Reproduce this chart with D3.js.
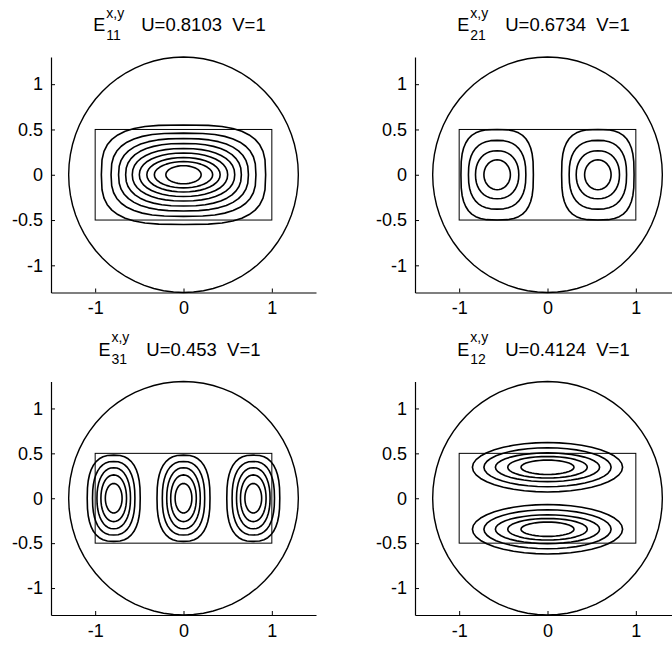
<!DOCTYPE html>
<html>
<head>
<meta charset="utf-8">
<script src="https://cdn.jsdelivr.net/npm/d3@7"></script>
<style>
  body { margin: 0; background: #fff; }
  text { font-family: "Liberation Sans", Arial, Helvetica, sans-serif; fill: #000; }
</style>
</head>
<body>
<svg id="chart" width="672" height="645"></svg>
<script>
// mode labels and titles
const modeNames = ["11", "21", "31", "12"];
const uValues = ["0.8103", "0.6734", "0.453", "0.4124"];
const vValues = ["1", "1", "1", "1"];

// axes
const xDomain = [-1.5, 1.5];
const yDomain = [-1.3, 1.3];
const xTicks = [-1, 0, 1];
const yTicks = [-1, -0.5, 0, 0.5, 1];

// waveguide: core rectangle and cladding circle
const coreX = [-1, 1];
const coreY = [-0.5, 0.5];
const claddingR = 1.3;

// contour rings: lobe centres, half widths, half heights, squareness
const lobes11 = [[0, 0]];
const rx11 = [0.93, 0.82, 0.735, 0.655, 0.58, 0.50, 0.415, 0.33, 0.20];
const ry11 = [0.55, 0.46, 0.40, 0.345, 0.29, 0.24, 0.19, 0.145, 0.10];
const sq11 = [3.1, 2.8, 2.55, 2.4, 2.25, 2.15, 2.05, 2.0, 2.0];

const lobes21 = [[-0.57, 0], [0.57, 0]];
const rx21 = [0.41, 0.325, 0.245, 0.15];
const ry21 = [0.50, 0.38, 0.265, 0.165];
const sq21 = [3.0, 2.5, 2.2, 2.0];

const lobes31 = [[-0.79, 0], [0, 0], [0.79, 0]];
const rx31 = [0.30, 0.24, 0.19, 0.145, 0.095];
const ry31 = [0.48, 0.41, 0.34, 0.26, 0.165];
const sq31 = [2.6, 2.4, 2.2, 2.1, 2.0];

const lobes12 = [[0, 0.345], [0, -0.345]];
const rx12 = [0.85, 0.72, 0.59, 0.45, 0.30];
const ry12 = [0.275, 0.217, 0.16, 0.12, 0.08];
const sq12 = [2.0, 2.0, 2.0, 2.0, 2.0];

const modeLobes = [lobes11, lobes21, lobes31, lobes12];
const modeRx = [rx11, rx21, rx31, rx12];
const modeRy = [ry11, ry21, ry31, ry12];
const modeSq = [sq11, sq21, sq31, sq12];

// layout
const panelLeft = [51, 415, 51, 415];
const panelTop = [57, 57, 381.5, 381.5];
const panelH = [235.5, 235.5, 233.5, 233.5];
const panelW = 265;

const svg = d3.select("#chart");
svg.append("rect").attr("width", 672).attr("height", 645).attr("fill", "#fff");

// closed superellipse ring as list of [x, y] in data units
function ring(cx, cy, rx, ry, n, steps) {
  const pts = [];
  for (let i = 0; i < steps; i++) {
    const t = (i / steps) * 2 * Math.PI;
    const c = Math.cos(t), s = Math.sin(t);
    pts.push([
      cx + rx * Math.sign(c) * Math.pow(Math.abs(c), 2 / n),
      cy + ry * Math.sign(s) * Math.pow(Math.abs(s), 2 / n)
    ]);
  }
  return pts;
}

function drawTitle(g, cx, baseY, mode, u, v) {
  const t = g.append("g");
  const e = t.append("text").attr("x", 0).attr("y", 0)
    .style("font-size", "18px").text("E");
  const eW = e.node().getComputedTextLength();
  const sup = t.append("text").attr("x", eW + 1).attr("y", -13.5)
    .style("font-size", "14px").text("x,y");
  const sub = t.append("text").attr("x", eW + 1).attr("y", 8.5)
    .style("font-size", "14px").text(mode);
  const sW = Math.max(sup.node().getComputedTextLength(), sub.node().getComputedTextLength());
  const main = t.append("text").attr("x", eW + sW + 18).attr("y", 0)
    .style("font-size", "18.5px").text("U=" + u + "\u00a0\u00a0V=" + v);
  const total = eW + sW + 18 + main.node().getComputedTextLength();
  t.attr("transform", "translate(" + (cx - total / 2) + "," + baseY + ")");
}

for (let p = 0; p < 4; p++) {
  const x = d3.scaleLinear().domain(xDomain).range([0, panelW]);
  const y = d3.scaleLinear().domain(yDomain).range([panelH[p], 0]);
  const g = svg.append("g")
    .attr("transform", "translate(" + panelLeft[p] + "," + panelTop[p] + ")");

  const line = d3.line()
    .x(d => x(d[0]))
    .y(d => y(d[1]))
    .curve(d3.curveLinearClosed);

  // cladding circle
  g.append("path")
    .attr("d", line(ring(0, 0, claddingR, claddingR, 2, 72)))
    .attr("fill", "none")
    .attr("stroke", "#000")
    .attr("stroke-width", 1.4);

  // core rectangle
  g.append("rect")
    .attr("x", x(coreX[0]))
    .attr("y", y(coreY[1]))
    .attr("width", x(coreX[1]) - x(coreX[0]))
    .attr("height", y(coreY[0]) - y(coreY[1]))
    .attr("fill", "none")
    .attr("stroke", "#000")
    .attr("stroke-width", 1);

  // field contours
  const lobes = modeLobes[p];
  lobes.forEach(c => {
    modeRx[p].forEach((rx, i) => {
      g.append("path")
        .attr("d", line(ring(c[0], c[1], rx, modeRy[p][i], modeSq[p][i], 40)))
        .attr("fill", "none")
        .attr("stroke", "#000")
        .attr("stroke-width", 1.6)
        .attr("stroke-linejoin", "round");
    });
  });

  // axes
  const xAxis = g.append("g")
    .attr("transform", "translate(0," + panelH[p] + ")")
    .call(d3.axisBottom(x).tickValues(xTicks).tickSizeInner(-4).tickSizeOuter(0)
      .tickPadding(9).tickFormat(d => String(d)));
  const yAxis = g.append("g")
    .call(d3.axisLeft(y).tickValues(yTicks).tickSizeInner(-4).tickSizeOuter(0)
      .tickPadding(8).tickFormat(d => String(d)));
  [xAxis, yAxis].forEach(a => {
    a.selectAll("text").style("font-size", "18px").attr("fill", "#000");
    a.select(".domain").attr("stroke", "#000").attr("stroke-width", 1.2);
    a.selectAll(".tick line").attr("stroke", "#000");
    a.attr("font-family", null);
  });

  drawTitle(svg, panelLeft[p] + panelW / 2 - 4, panelTop[p] - 26,
    modeNames[p], uValues[p], vValues[p]);
}
</script>
</body>
</html>
